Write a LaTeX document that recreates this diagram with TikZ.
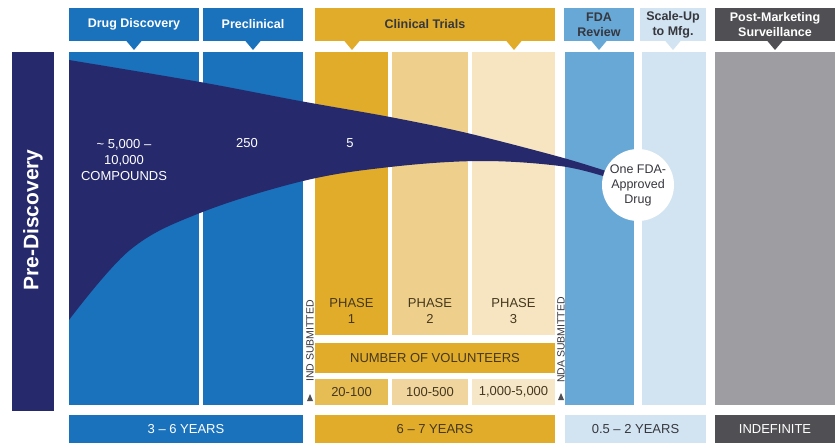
\documentclass[tikz,border=0pt]{standalone}
\usepackage{fontspec}
\setmainfont{Liberation Sans}
\definecolor{navy}{RGB}{38,42,108}
\definecolor{blueA}{RGB}{26,114,188}
\definecolor{goldA}{RGB}{224,172,42}
\definecolor{goldB}{RGB}{238,208,140}
\definecolor{goldC}{RGB}{246,229,192}
\definecolor{cntA}{RGB}{230,188,85}
\definecolor{cntB}{RGB}{240,214,158}
\definecolor{cntC}{RGB}{246,231,200}
\definecolor{fdablue}{RGB}{104,168,214}
\definecolor{scaleblue}{RGB}{210,227,241}
\definecolor{grayA}{RGB}{158,158,162}
\definecolor{grayD}{RGB}{80,80,84}
\definecolor{txtgold}{RGB}{70,56,30}
\definecolor{txtdark}{RGB}{55,55,62}
\begin{document}
\begin{tikzpicture}[x=1pt,y=-1pt,
  box/.style={rectangle, inner sep=0pt, outer sep=0pt, align=center},
  hdr/.style={box, font=\fontsize{12.5}{15}\selectfont\bfseries},
  txt/.style={align=center, inner sep=0pt, font=\fontsize{13}{16}\selectfont},
  smalltxt/.style={inner sep=0pt, font=\fontsize{10.5}{12}\selectfont, text=txtdark},
]
\useasboundingbox (0,0) rectangle (838,444);
\fill[white] (0,0) rectangle (838,444);

% ---------- headers ----------
\node[hdr, fill=blueA, text=white, minimum width=130pt, minimum height=33pt] (hdd) at (134,24.5) {Drug Discovery};
\node[hdr, fill=blueA, text=white, minimum width=100pt, minimum height=33pt] (hpre) at (253,24.5) {Preclinical};
\node[hdr, fill=goldA, minimum width=240pt, minimum height=33pt] (hct) at (435,24.5) {};
\node[hdr, text=txtdark, inner sep=0pt] (hcttxt) at (425,24.5) {Clinical Trials};
\node[hdr, fill=fdablue, text=txtdark, minimum width=70pt, minimum height=33pt] (hfda) at (599,24.5) {FDA\\Review};
\node[hdr, fill=scaleblue, text=txtdark, minimum width=66pt, minimum height=33pt] (hsu) at (673,24.5) {Scale-Up\\to Mfg.};
\node[hdr, fill=grayD, text=white, minimum width=120pt, minimum height=33pt] (hpm) at (775,24.5) {Post-Marketing\\Surveillance};

\newcommand\hdrtri[2]{\fill[#2] (#1-8,40.5) -- (#1+8,40.5) -- (#1,50) -- cycle;}
\hdrtri{134}{blueA}
\hdrtri{253}{blueA}
\hdrtri{352}{goldA}
\hdrtri{514}{goldA}
\hdrtri{599}{fdablue}
\hdrtri{673}{scaleblue}
\hdrtri{775}{grayD}

% ---------- columns ----------
\node[box, fill=navy, minimum width=42pt, minimum height=359pt] (prebar) at (33,231.5) {};
\node[box, fill=blueA, minimum width=130pt, minimum height=353pt] (cdd) at (134,228.5) {};
\node[box, fill=blueA, minimum width=100pt, minimum height=353pt] (cpre) at (253,228.5) {};
\node[box, fill=goldA, minimum width=73pt, minimum height=283pt] (p1) at (351.5,193.5) {};
\node[box, fill=goldB, minimum width=76pt, minimum height=283pt] (p2) at (430,193.5) {};
\node[box, fill=goldC, minimum width=83pt, minimum height=283pt] (p3) at (513.5,193.5) {};
\node[box, fill=fdablue, minimum width=69pt, minimum height=353pt] (cfda) at (599.5,228.5) {};
\node[box, fill=scaleblue, minimum width=64pt, minimum height=353pt] (csu) at (674,228.5) {};
\node[box, fill=grayA, minimum width=120pt, minimum height=353pt] (cpm) at (775,228.5) {};

% ---------- funnel ----------
\fill[navy] (69,60) -- plot[smooth, tension=0.55] coordinates {(69,60) (200,82) (300,101) (390,117) (467,133) (560,157) (606,171)}
  -- (606,177)
  -- plot[smooth, tension=0.6] coordinates {(606,177) (560,166) (480,161) (390,167) (303,181) (200,213) (130,250) (69,320)}
  -- cycle;

\node[circle, fill=white, minimum size=72pt, inner sep=0pt, align=center, text=txtdark,
      font=\fontsize{12.5}{15}\selectfont] (drug) at (638,185) {One FDA-\\Approved\\Drug};

% ---------- funnel texts ----------
\node[txt, text=white] (n1) at (124,160) {\textasciitilde{} 5,000 –\\10,000\\COMPOUNDS};
\node[txt, text=white] (n2) at (247,143) {250};
\node[txt, text=white] (n3) at (350,143) {5};

\node[font=\fontsize{21}{24}\selectfont\bfseries, text=white, rotate=90, inner sep=0pt] (predisc) at (33,220) {Pre-Discovery};

% ---------- phase labels ----------
\node[txt, text=txtgold] (ph1) at (351.5,311) {PHASE\\1};
\node[txt, text=txtgold] (ph2) at (430,311) {PHASE\\2};
\node[txt, text=txtgold] (ph3) at (513.5,311) {PHASE\\3};

\node[box, fill=goldA, text=txtgold, font=\fontsize{13}{16}\selectfont, minimum width=240pt, minimum height=30pt] (vol) at (435,358) {NUMBER OF VOLUNTEERS};
\node[box, fill=cntA, text=txtgold, font=\fontsize{13}{16}\selectfont, minimum width=73pt, minimum height=26pt] (c1) at (351.5,392) {20-100};
\node[box, fill=cntB, text=txtgold, font=\fontsize{13}{16}\selectfont, minimum width=76pt, minimum height=26pt] (c2) at (430,392) {100-500};
\node[box, fill=cntC, text=txtgold, font=\fontsize{13}{16}\selectfont, minimum width=83pt, minimum height=26pt] (c3) at (513.5,392) {1,000-5,000};

% ---------- submission markers ----------
\node[smalltxt, rotate=90] (ind) at (310,341) {IND SUBMITTED};
\fill[grayD] (307,401) -- (313,401) -- (310,394) -- cycle;
\node[smalltxt, rotate=90] (nda) at (561,340) {NDA SUBMITTED};
\fill[grayD] (558,400) -- (564,400) -- (561,393) -- cycle;

% ---------- bottom bars ----------
\node[box, fill=blueA, text=white, font=\fontsize{13}{16}\selectfont, minimum width=234pt, minimum height=28pt] (y1) at (186,429) {3 – 6 YEARS};
\node[box, fill=goldA, text=txtgold, font=\fontsize{13}{16}\selectfont, minimum width=240pt, minimum height=28pt] (y2) at (435,429) {6 – 7 YEARS};
\node[box, fill=scaleblue, text=txtdark, font=\fontsize{13}{16}\selectfont, minimum width=141pt, minimum height=28pt] (y3) at (635.5,429) {0.5 – 2 YEARS};
\node[box, fill=grayD, text=white, font=\fontsize{13}{16}\selectfont, minimum width=120pt, minimum height=28pt] (y4) at (775,429) {INDEFINITE};
\end{tikzpicture}
\end{document}
